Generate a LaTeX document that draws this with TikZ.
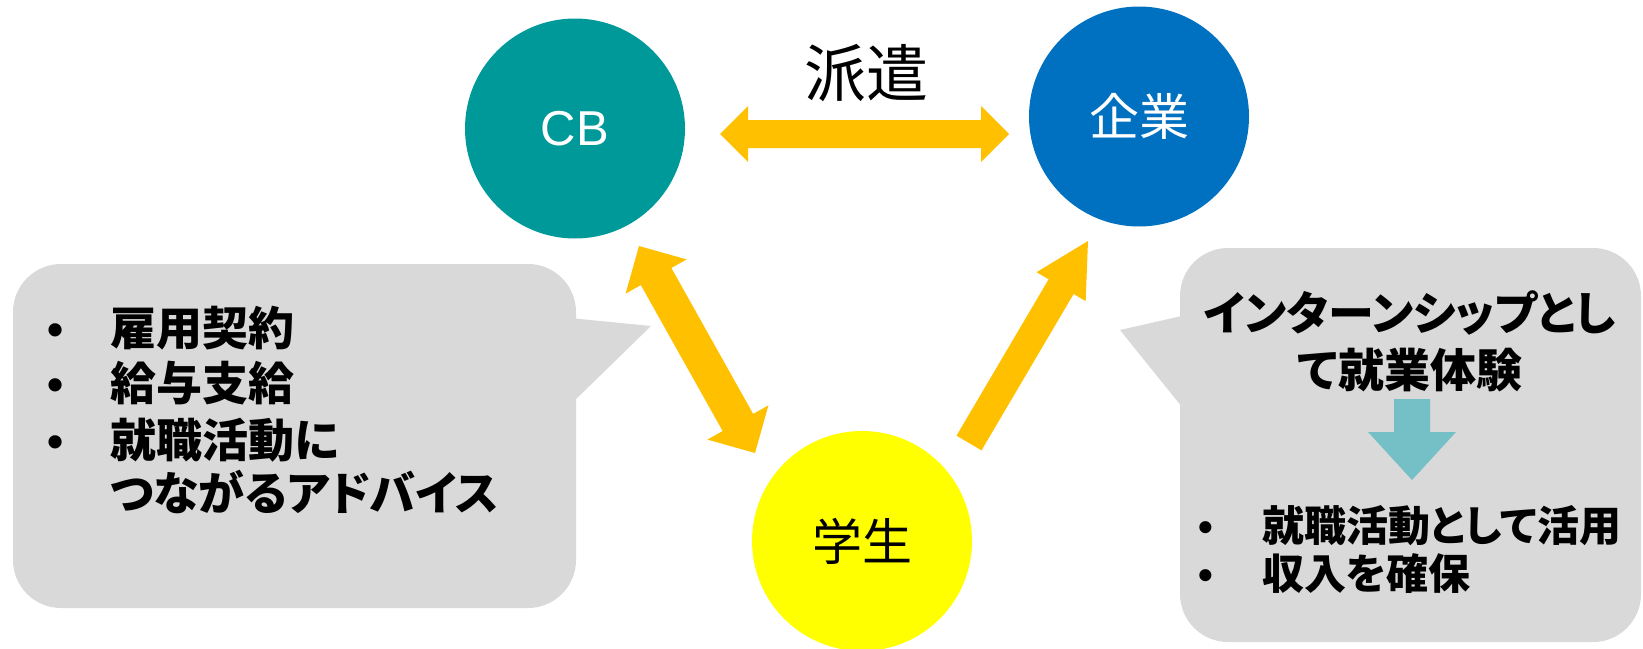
\documentclass[tikz,border=0pt]{standalone}
\usepackage{fontspec}
\newfontfamily\jpfont[RawFeature=+palt]{Noto Sans CJK JP}
\newfontfamily\latfont{Liberation Sans}
\usetikzlibrary{calc}

\definecolor{cbteal}{HTML}{009999}
\definecolor{firmblue}{HTML}{0070C0}
\definecolor{studentyellow}{HTML}{FFFF00}
\definecolor{arrowgold}{HTML}{FFC000}
\definecolor{notegray}{HTML}{D9D9D9}
\definecolor{flowteal}{HTML}{74C0C6}

% bullet set in a box of fixed width
\newcommand{\notebullet}[1]{\makebox[#1][l]{\latfont •}}

% fat arrow: [style] {tail} {tip} {shaft half} {head half} {head length}
\newcommand{\onewayarrow}[6][]{%
  \coordinate (hb) at ($(#3)!#6!(#2)$);
  \fill[#1] ($(#2)!#4!90:(#3)$) -- ($(hb)!#4!90:(#3)$) -- ($(hb)!#5!90:(#3)$) -- (#3)
    -- ($(hb)!#5!-90:(#3)$) -- ($(hb)!#4!-90:(#3)$) -- ($(#2)!#4!-90:(#3)$) -- cycle;
}
% fat arrow with two heads
\newcommand{\twowayarrow}[6][]{%
  \coordinate (ha) at ($(#2)!#6!(#3)$);
  \coordinate (hb) at ($(#3)!#6!(#2)$);
  \fill[#1] (#2) -- ($(ha)!#5!90:(#3)$) -- ($(ha)!#4!90:(#3)$) -- ($(hb)!#4!-90:(#2)$)
    -- ($(hb)!#5!-90:(#2)$) -- (#3) -- ($(hb)!#5!90:(#2)$) -- ($(hb)!#4!90:(#2)$)
    -- ($(ha)!#4!-90:(#3)$) -- ($(ha)!#5!-90:(#3)$) -- cycle;
}

\tikzset{
  party/.style={circle, minimum size=220pt, inner sep=0pt},
  notebox/.style={fill=notegray, rounded corners=48pt},
  notetext/.style={font=\jpfont\bfseries\fontsize{46}{55}\selectfont, anchor=base west, inner sep=0pt},
  smallnote/.style={font=\jpfont\bfseries\fontsize{42}{48}\selectfont, anchor=base west, inner sep=0pt},
}

\begin{document}
\begin{tikzpicture}[x=1pt,y=-1pt]
 \useasboundingbox (0,0) rectangle (1643,648);

 % call-out boxes
 \fill[notebox] (13,264) rectangle (576,608);
 \fill[notegray] (570,318)--(651,326)--(570,405)--cycle;
 \fill[notebox] (1180,248) rectangle (1641,642);
 \fill[notegray] (1186,315)--(1120,330)--(1186,412)--cycle;

 % the three parties
 \node[party, fill=cbteal, text=white, font=\latfont\fontsize{49}{49}\selectfont] (cb) at (575,128.5) {CB};
 \node[party, fill=firmblue, text=white, font=\jpfont\fontsize{50}{50}\selectfont] (firm) at (1139,116.5) {企業};
 \node[party, fill=studentyellow, font=\jpfont\fontsize{50}{50}\selectfont] (student) at (862,541) {学生};

 % arrow ends
 \coordinate (dispL) at (720,134);
 \coordinate (dispR) at (1009,134);
 \coordinate (cbEnd) at (639,246);
 \coordinate (stEndA) at (755,453);
 \coordinate (stEndB) at (969,443);
 \coordinate (firmEnd) at (1088,241);
 \coordinate (flowTop) at (1412,399);
 \coordinate (flowTip) at (1412,480);

 \twowayarrow[fill=arrowgold]{dispL}{dispR}{14pt}{28pt}{28pt}
 \twowayarrow[fill=arrowgold]{cbEnd}{stEndA}{17.5pt}{35pt}{35pt}
 \onewayarrow[fill=arrowgold]{stEndB}{firmEnd}{14.5pt}{28.5pt}{53pt}
 \onewayarrow[fill=flowteal]{flowTop}{flowTip}{18pt}{44pt}{48pt}

 \node[font=\jpfont\fontsize{62}{62}\selectfont] (haken) at (866,73) {派遣};

 % CB side
 \node[notetext] (adv1) at (47,345.5) {\notebullet{63pt}雇用契約};
 \node[notetext] (adv2) at (47,400.5) {\notebullet{63pt}給与支給};
 \node[notetext] (adv3) at (47,457.5) {\notebullet{63pt}就職活動に};
 \node[notetext] (adv4) at (110,510.5) {つながるアドバイス};

 % firm side
 \node[notetext, anchor=base] (intern1) at (1410,330.5) {インターンシップとし};
 \node[notetext, anchor=base] (intern2) at (1410,387.5) {て就業体験};
 \node[smallnote] (gain1) at (1198,541) {\notebullet{64pt}就職活動として活用};
 \node[smallnote] (gain2) at (1198,589) {\notebullet{64pt}収入を確保};
\end{tikzpicture}
\end{document}
